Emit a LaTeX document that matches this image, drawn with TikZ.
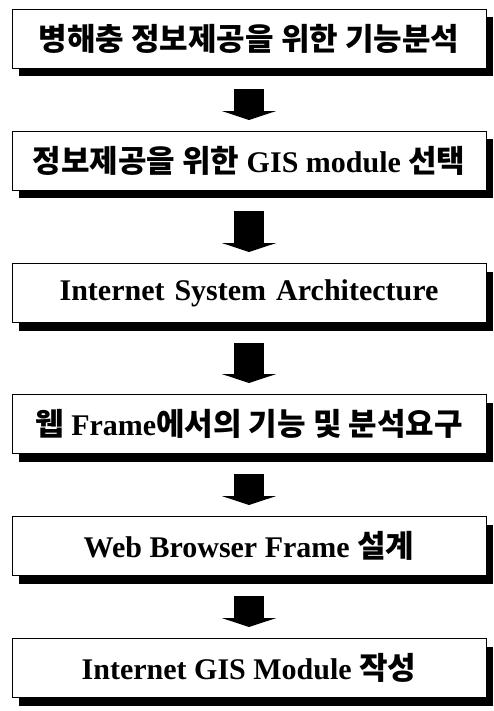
\documentclass[tikz,border=0pt]{standalone}
\usepackage{fontspec}
\setmainfont{Liberation Serif}
\newfontfamily\kr{Noto Sans CJK KR}
\usetikzlibrary{positioning,shadows,arrows.meta}
\newcommand{\ko}[1]{{\kr\fontsize{31}{34}\selectfont #1}}

\begin{document}
\begin{tikzpicture}[x=1pt,y=1pt,
        stepbox/.style={draw,fill=white,line width=0.9pt,minimum width=474pt,minimum height=59pt,
            inner sep=0pt,font=\fontsize{30}{34}\selectfont\bfseries,
            drop shadow={shadow xshift=7pt,shadow yshift=-8pt,opacity=1,fill=black}},
        flow/.style={line width=30pt,-{Triangle[width=54pt,length=9pt]},shorten <=20pt,shorten >=11pt}]
    \useasboundingbox (0,0) rectangle (494,-711);
    \node[stepbox] (s1) at (249,-39) {\ko{병해충 정보제공을 위한 기능분석}};
    \node[stepbox] (s2) at (249,-161) {\ko{정보제공을 위한} GIS module \ko{선택}};
    \node[stepbox] (s3) at (249,-293) {Internet\hspace{10pt}System\hspace{10pt}Architecture};
    \node[stepbox] (s4) at (249,-424) {\ko{웹} Frame\ko{에서의 기능 및 분석요구}};
    \node[stepbox] (s5) at (249,-546) {Web Browser Frame \ko{설계}};
    \node[stepbox] (s6) at (249,-668) {Internet GIS Module \ko{작성}};
    % block arrows between the steps
    \foreach \a/\b in {s1/s2,s2/s3,s3/s4,s4/s5,s5/s6}
        \draw[flow] (\a.south) -- (\b.north);
\end{tikzpicture}
\end{document}
